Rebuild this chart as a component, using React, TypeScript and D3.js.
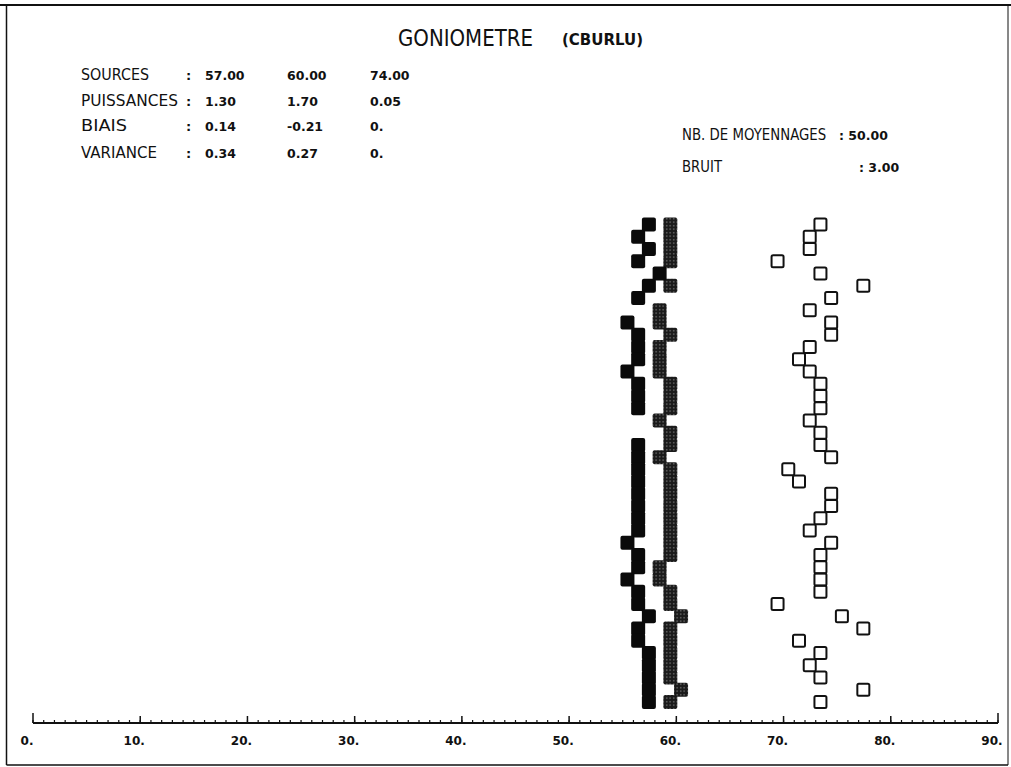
import React from "react";
import * as d3 from "d3";

// ---- data ----
const paramLabels = ["SOURCES", "PUISSANCES", "BIAIS", "VARIANCE"];
const sourcesRow = ["57.00", "60.00", "74.00"];
const puissancesRow = ["1.30", "1.70", "0.05"];
const biaisRow = ["0.14", "-0.21", "0."];
const varianceRow = ["0.34", "0.27", "0."];
const nbMoyennages = "50.00";
const bruit = "3.00";

// estimated angle per trial (40 trials), null = no estimate drawn
const estimSource1: (number | null)[] = [
  58, 57, 58, 57, 59, 58, 57, null, 56, 57,
  57, 57, 56, 57, 57, 57, null, null, 57, 57,
  57, 57, 57, 57, 57, 57, 56, 57, 57, 56,
  57, 57, 58, 57, 57, 58, 58, 58, 58, 58,
];
const estimSource2: (number | null)[] = [
  60, 60, 60, 60, null, 60, null, 59, 59, 60,
  59, 59, 59, 60, 60, 60, 59, 60, 60, 59,
  60, 60, 60, 60, 60, 60, 60, 60, 59, 59,
  60, 60, 61, 60, 60, 60, 60, 60, 61, 60,
];
const estimSource3: (number | null)[] = [
  74, 73, 73, 70, 74, 78, 75, 73, 75, 75,
  73, 72, 73, 74, 74, 74, 73, 74, 74, 75,
  71, 72, 75, 75, 74, 73, 75, 74, 74, 74,
  74, 70, 76, 78, 72, 74, 73, 74, 78, 74,
];

const axisMajorTicks = [0, 10, 20, 30, 40, 50, 60, 70, 80, 90];
const axisTickLabels = ["0.", "10.", "20.", "30.", "40.", "50.", "60.", "70.", "80.", "90."];

// ---- layout (not data) ----
const labelWidths: Record<string, number> = {
  SOURCES: 68,
  PUISSANCES: 97,
  BIAIS: 46,
  VARIANCE: 76,
};
const rowBaselines = [80, 105.5, 131, 158];
const colX = [205, 287, 370];

export default function App() {
  const W = 1011;
  const H = 767;
  const x = d3.scaleLinear().domain([0, 90]).range([33, 998]);
  const y = d3
    .scaleLinear()
    .domain([0, estimSource1.length - 1])
    .range([224.5, 702]);
  const axisY = 723;
  const markerShift = -6; // plotter draws the square left of the value
  const S = 14;
  const minorTicks = d3.range(0, 91, 1);

  const labelFont = "'DejaVu Sans', sans-serif";
  const numFont = "'DejaVu Sans', sans-serif";
  const ink = "#111";

  const rows = [sourcesRow, puissancesRow, biaisRow, varianceRow];

  const pts = (arr: (number | null)[]) =>
    arr
      .map((v, i) => ({ v, i }))
      .filter((d) => d.v !== null) as { v: number; i: number }[];

  return (
    <svg
      width={W}
      height={H}
      style={{ position: "absolute", left: 0, top: 0, background: "#fff" }}
    >
      <defs>
        <pattern id="stip" width="3.5" height="3.5" patternUnits="userSpaceOnUse">
          <rect width="3.5" height="3.5" fill="#1a1a1a" />
          <rect x="1.2" y="1.2" width="1" height="1" fill="#fff" opacity="0.75" />
        </pattern>
      </defs>
      <rect x={0} y={0} width={W} height={H} fill="#fff" />
      {/* frame */}
      <line x1={0} y1={5} x2={W} y2={5} stroke={ink} strokeWidth={2} />
      <line x1={6.5} y1={5} x2={6.5} y2={765} stroke={ink} strokeWidth={1.5} />
      <line x1={6.5} y1={765} x2={1008} y2={765} stroke={ink} strokeWidth={1.5} />
      <line x1={1008} y1={5} x2={1008} y2={765} stroke={ink} strokeWidth={1} />

      {/* title */}
      <text
        x={398}
        y={46}
        fontFamily={labelFont}
        fontSize={23}
        textLength={135}
        lengthAdjust="spacingAndGlyphs"
        fill={ink}
      >
        GONIOMETRE
      </text>
      <text
        x={562}
        y={45}
        fontFamily={labelFont}
        fontSize={15}
        fontWeight="bold"
        textLength={81}
        lengthAdjust="spacingAndGlyphs"
        fill={ink}
      >
        (CBURLU)
      </text>

      {/* parameter block */}
      {paramLabels.map((lab, r) => (
        <g key={lab}>
          <text
            x={81}
            y={rowBaselines[r]}
            fontFamily={labelFont}
            fontSize={15.5}
            textLength={labelWidths[lab]}
            lengthAdjust="spacingAndGlyphs"
            fill={ink}
          >
            {lab}
          </text>
          <text x={186} y={rowBaselines[r]} fontFamily={numFont} fontSize={13} fontWeight="bold" fill={ink}>
            :
          </text>
          {rows[r].map((val, c) => (
            <text
              key={c}
              x={colX[c]}
              y={rowBaselines[r]}
              fontFamily={numFont}
              fontSize={12.5}
              fontWeight="bold"
              fill={ink}
            >
              {val}
            </text>
          ))}
        </g>
      ))}

      {/* right block */}
      <g transform="translate(682,140) scale(0.86,1)">
        <text x={0} y={0} fontFamily={labelFont} fontSize={15.5} fill={ink}>
          NB. DE MOYENNAGES
        </text>
      </g>
      <text x={839} y={140} fontFamily={numFont} fontSize={12.5} fontWeight="bold" fill={ink}>
        {": " + nbMoyennages}
      </text>
      <text
        x={682}
        y={172}
        fontFamily={labelFont}
        fontSize={15.5}
        textLength={40}
        lengthAdjust="spacingAndGlyphs"
        fill={ink}
      >
        BRUIT
      </text>
      <text x={859} y={172} fontFamily={numFont} fontSize={12.5} fontWeight="bold" fill={ink}>
        {": " + bruit}
      </text>

      {/* stippled source 2 */}
      {pts(estimSource2).map((d) => (
        <rect
          key={"b" + d.i}
          x={x(d.v) + markerShift - S / 2}
          y={y(d.i) - S / 2}
          width={S}
          height={S}
          rx={2}
          fill="url(#stip)"
        />
      ))}
      {/* solid source 1 */}
      {pts(estimSource1).map((d) => (
        <rect
          key={"a" + d.i}
          x={x(d.v) + markerShift - S / 2}
          y={y(d.i) - S / 2}
          width={S}
          height={S}
          rx={2}
          fill="#0a0a0a"
        />
      ))}
      {/* open source 3 */}
      {pts(estimSource3).map((d) => (
        <rect
          key={"c" + d.i}
          x={x(d.v) + markerShift - (S - 2) / 2}
          y={y(d.i) - (S - 2) / 2}
          width={S - 2}
          height={S - 2}
          rx={1.5}
          fill="none"
          stroke={ink}
          strokeWidth={2}
        />
      ))}

      {/* axis */}
      <line x1={x(0)} y1={axisY} x2={x(90)} y2={axisY} stroke={ink} strokeWidth={1.8} />
      {minorTicks.map((t) => (
        <line key={"m" + t} x1={x(t)} y1={axisY} x2={x(t)} y2={axisY - 3} stroke={ink} strokeWidth={1.2} />
      ))}
      {axisMajorTicks.map((t) => (
        <line
          key={"M" + t}
          x1={x(t)}
          y1={axisY}
          x2={x(t)}
          y2={axisY - (t === 0 || t === 90 ? 10 : 7)}
          stroke={ink}
          strokeWidth={1.5}
        />
      ))}
      {axisMajorTicks.map((t, k) => (
        <text
          key={"L" + t}
          x={x(t) - 6}
          y={axisY + 22}
          textAnchor="middle"
          fontFamily={numFont}
          fontSize={12}
          fontWeight="bold"
          fill={ink}
        >
          {axisTickLabels[k]}
        </text>
      ))}
    </svg>
  );
}
